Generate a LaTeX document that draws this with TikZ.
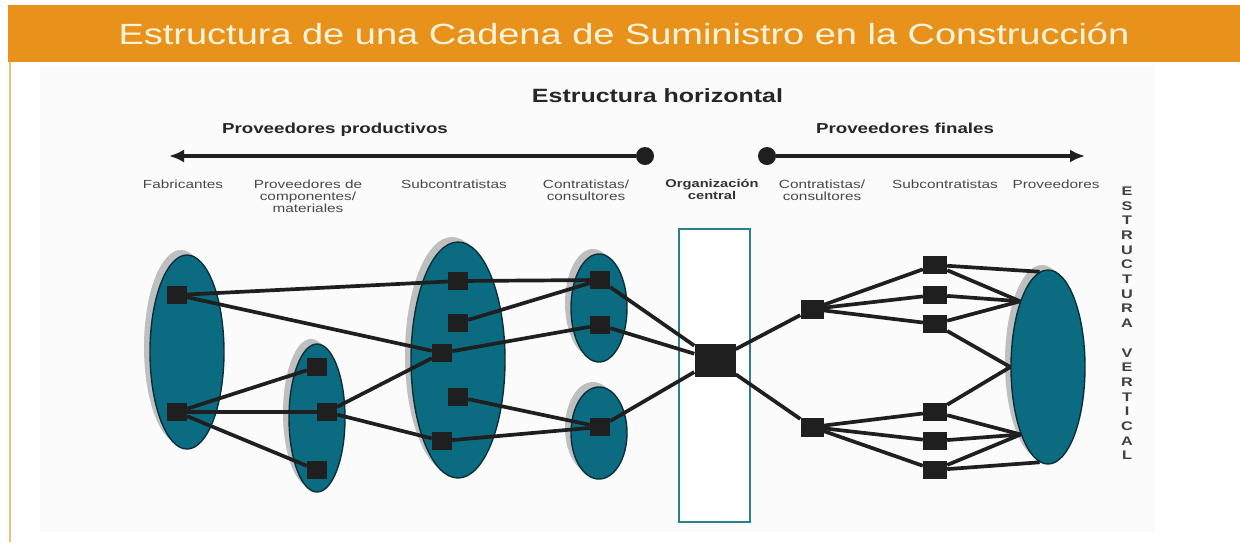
\documentclass[tikz,border=0pt]{standalone}
\usepackage{fontspec}
\setmainfont{Liberation Sans}
\newfontfamily\anchosans[FakeStretch=1.3]{Liberation Sans}
\usetikzlibrary{arrows.meta, shapes.geometric, shadows}
\definecolor{naranja}{HTML}{E8921C}
\definecolor{crema}{HTML}{FFF4DA}
\definecolor{petroleo}{HTML}{0B6B80}
\definecolor{borde}{HTML}{0A2F3A}
\definecolor{marco}{HTML}{2C7F8E}
\definecolor{texto}{HTML}{484848}
\tikzset{
  grupo/.style={
    ellipse,
    draw=borde,
    line width=1.4pt,
    fill=petroleo,
    inner sep=0pt,
    drop shadow={shadow xshift=-6pt, shadow yshift=5pt, fill=black!25, opacity=1}
  },
  nodo/.style={
    rectangle,
    fill=black!88,
    inner sep=0pt,
    minimum width=20pt,
    minimum height=18pt
  },
  enlace/.style={line width=3.7pt, black!88},
  flecha/.style={
    -{Latex[length=15pt,width=13pt]}, line width=3.5pt, black!88}
}

\begin{document}
\begin{tikzpicture}[
  x=1pt, y=-1pt,
  punto/.style={circle, fill=black!88, inner sep=0pt, minimum size=18pt},
  etiqueta/.style={anchor=north, align=center, inner sep=0pt, text=texto,
                   font=\anchosans\fontsize{11.8}{12}\selectfont},
  cabecera/.style={anchor=base, inner sep=0pt, text=black!85,
                   font=\anchosans\bfseries\fontsize{14.4}{16}\selectfont}
]
\useasboundingbox (0,0) rectangle (1240,542);
\fill[white] (0,0) rectangle (1240,542);
\fill[black!1.5] (40,66) rectangle (1155,532);

%% ---- title band ----
\node[fill=naranja, minimum width=1232pt, minimum height=57pt, inner sep=0pt,
      text=crema, font=\anchosans\fontsize{29.2}{30}\selectfont]
  (titulo) at (624,33.5) {Estructura de una Cadena de Suministro en la Construcción};
\draw[naranja!60, line width=2pt] (10,62) -- (10,542);

%% ---- headings and arrows ----
\node[cabecera, font=\anchosans\bfseries\fontsize{19.2}{20}\selectfont]
  (horiz) at (657.5,102) {Estructura horizontal};
\node[cabecera] (productivos) at (335,133) {Proveedores productivos};
\node[cabecera] (finales) at (905,133) {Proveedores finales};

\node[punto] (pizq) at (645,156) {};
\node[punto] (pder) at (767,156) {};
\coordinate (fizq) at (169,156);
\coordinate (fder) at (1085,156);
\draw[flecha] (pizq) -- (fizq);
\draw[flecha] (pder) -- (fder);

%% ---- column labels ----
\node[etiqueta] (lfab)  at (183,179.5) {Fabricantes};
\node[etiqueta] (lcomp) at (308,179.5) {Proveedores de\\componentes/\\materiales};
\node[etiqueta] (lsub)  at (454,179.5) {Subcontratistas};
\node[etiqueta] (lcon)  at (586,179.5) {Contratistas/\\consultores};
\node[etiqueta, text=black!80, font=\anchosans\bfseries\fontsize{11.3}{12}\selectfont]
  (lorg) at (712,179.5) {Organización\\central};
\node[etiqueta] (lcon2) at (822,179.5) {Contratistas/\\consultores};
\node[etiqueta] (lsub2) at (945,179.5) {Subcontratistas};
\node[etiqueta] (lprov) at (1056,179.5) {Proveedores};

\node[anchor=north, align=center, inner sep=0pt, text=black!75,
      font=\anchosans\bfseries\fontsize{12.5}{14.7}\selectfont]
  (vertical) at (1127,186.5)
  {E\\S\\T\\R\\U\\C\\T\\U\\R\\A\\[14.7pt]V\\E\\R\\T\\I\\C\\A\\L};

%% ---- groups ----
\node[grupo, minimum width=74pt, minimum height=194pt] (fab)   at (187,352) {};
\node[grupo, minimum width=56pt, minimum height=148pt] (comp)  at (317,418) {};
\node[grupo, minimum width=94pt, minimum height=236pt] (sub)   at (458,360) {};
\node[grupo, minimum width=56pt, minimum height=108pt] (cons1) at (599,308) {};
\node[grupo, minimum width=56pt, minimum height=92pt]  (cons2) at (599,433) {};
\node[grupo, minimum width=74pt, minimum height=194pt] (prov)  at (1048,367) {};

\node[draw=marco, line width=2pt, fill=white, minimum width=71pt, minimum height=293pt]
  (orgbox) at (714.5,375.5) {};

%% ---- members ----
\node[nodo] (a1) at (177,295) {};
\node[nodo] (a2) at (177,412) {};
\node[nodo] (b1) at (317,367) {};
\node[nodo] (b2) at (327,412) {};
\node[nodo] (b3) at (317,470) {};
\node[nodo] (c1) at (458,281) {};
\node[nodo] (c2) at (458,323) {};
\node[nodo] (c3) at (442,353) {};
\node[nodo] (c4) at (458,397) {};
\node[nodo] (c5) at (442,441) {};
\node[nodo] (d1) at (600,280) {};
\node[nodo] (d2) at (600,325) {};
\node[nodo] (d3) at (600,427) {};
\node[nodo, minimum width=41pt, minimum height=33pt] (org) at (715,360) {};
\node[nodo, minimum width=23pt, minimum height=19pt] (r1) at (812,309) {};
\node[nodo, minimum width=23pt, minimum height=19pt] (r2) at (812,427) {};
\foreach \n/\y in {1/265, 2/295, 3/324, 4/412, 5/441, 6/470}
  \node[nodo, minimum width=24pt] (s\n) at (935,\y) {};

%% ---- links ----
\draw[enlace] (a1) -- (c1);
\draw[enlace] (a1) -- (c3);
\draw[enlace] (a2) -- (b1);
\draw[enlace] (a2) -- (b2);
\draw[enlace] (a2) -- (b3);
\draw[enlace] (b2) -- (c3);
\draw[enlace] (b2) -- (c5);
\draw[enlace] (c1) -- (d1);
\draw[enlace] (c2) -- (d1);
\draw[enlace] (c3) -- (d2);
\draw[enlace] (c4) -- (d3);
\draw[enlace] (c5) -- (d3);
\foreach \d in {d1,d2,d3}
  \draw[enlace] (\d) -- (org);
\draw[enlace] (org) -- (r1);
\draw[enlace] (org) -- (r2);
\foreach \s in {s1,s2,s3}
  \draw[enlace] (r1) -- (\s);
\foreach \s in {s4,s5,s6}
  \draw[enlace] (r2) -- (\s);
\draw[enlace] (s1) -- (prov.95);
\draw[enlace] (s1) -- (prov.113);
\draw[enlace] (s2) -- (prov.113);
\draw[enlace] (s3) -- (prov.113);
\draw[enlace] (s3) -- (prov.west);
\draw[enlace] (s4) -- (prov.west);
\draw[enlace] (s4) -- (prov.248);
\draw[enlace] (s5) -- (prov.248);
\draw[enlace] (s6) -- (prov.248);
\draw[enlace] (s6) -- (prov.265);

\end{tikzpicture}
\end{document}
